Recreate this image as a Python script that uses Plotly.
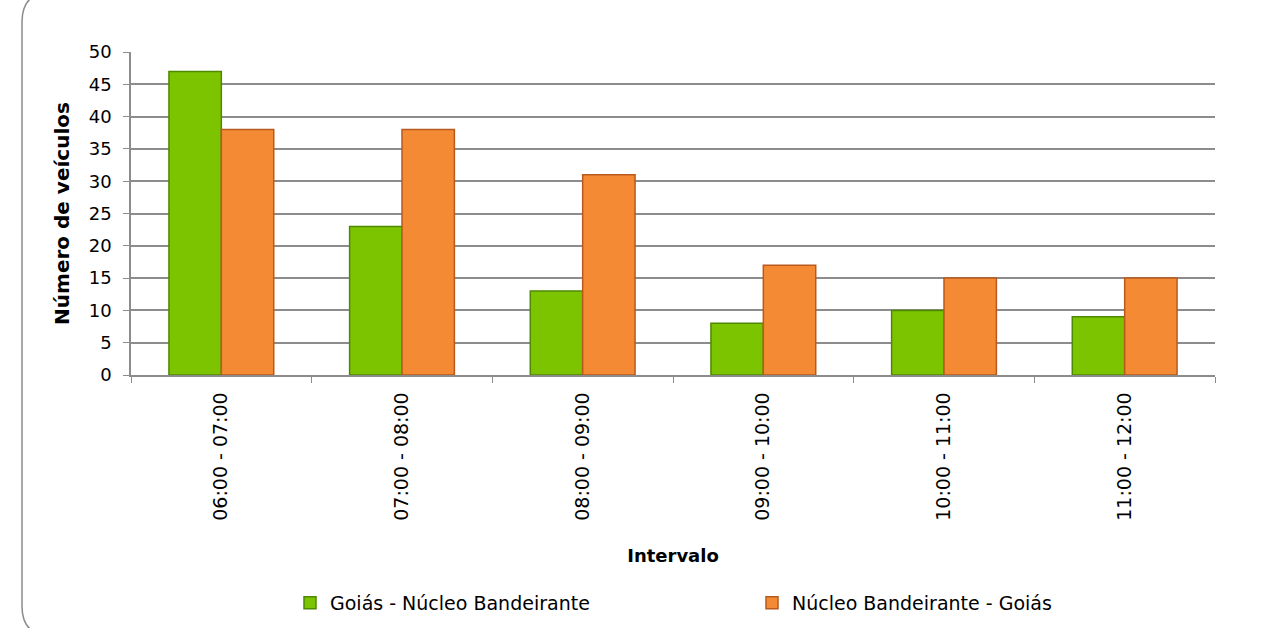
import plotly.graph_objects as go

categories = ["06:00 - 07:00", "07:00 - 08:00", "08:00 - 09:00", "09:00 - 10:00", "10:00 - 11:00", "11:00 - 12:00"]
goias_nb = [47, 23, 13, 8, 10, 9]
nb_goias = [38, 38, 31, 17, 15, 15]
series_names = ["Goiás - Núcleo Bandeirante", "Núcleo Bandeirante - Goiás"]
y_ticks = [0, 5, 10, 15, 20, 25, 30, 35, 40, 45, 50]

W, H = 1271, 628
ML, MR, MT, MB = 131, 56, 52, 253
PW, PH = W - ML - MR, H - MT - MB

def px(x):
    return (x - ML) / PW

def py(y):
    return (H - MB - y) / PH

FONT = "DejaVu Sans, sans-serif"
FS = 18

fig = go.Figure()
fig.add_trace(go.Bar(
    x=categories, y=goias_nb, name=series_names[0], legend="legend",
    marker=dict(color="#7CC300", line=dict(color="#4E8A00", width=1.5)),
))
fig.add_trace(go.Bar(
    x=categories, y=nb_goias, name=series_names[1], legend="legend2",
    marker=dict(color="#F58A35", line=dict(color="#B85A1E", width=1.5)),
))

# rounded frame around the chart (partly outside the visible page, as in the original)
x0, x1, y0, y1, r = 22, 1280, -8, 636, 30
path = (
    f"M {px(x0)} {py(y0 + r)} "
    f"Q {px(x0)} {py(y0)} {px(x0 + r)} {py(y0)} "
    f"L {px(x1 - r)} {py(y0)} "
    f"Q {px(x1)} {py(y0)} {px(x1)} {py(y0 + r)} "
    f"L {px(x1)} {py(y1 - r)} "
    f"Q {px(x1)} {py(y1)} {px(x1 - r)} {py(y1)} "
    f"L {px(x0 + r)} {py(y1)} "
    f"Q {px(x0)} {py(y1)} {px(x0)} {py(y1 - r)} Z"
)
fig.add_shape(type="path", path=path, xref="paper", yref="paper",
              line=dict(color="#8C8C8C", width=1.5), fillcolor="rgba(0,0,0,0)", layer="below")

leg_common = dict(orientation="h", yanchor="middle", xanchor="left", itemwidth=30,
                  bgcolor="rgba(0,0,0,0)", font=dict(family=FONT, size=19))
fig.update_layout(
    width=W, height=H,
    margin=dict(l=ML, r=MR, t=MT, b=MB, autoexpand=False),
    paper_bgcolor="white", plot_bgcolor="white",
    barmode="group", bargap=0.42, bargroupgap=0,
    font=dict(family=FONT, size=FS, color="black"),
    showlegend=True,
    legend=dict(x=px(290), y=py(603), **leg_common),
    legend2=dict(x=px(752), y=py(603), **leg_common),
    xaxis=dict(
        title=dict(text="<b>Intervalo</b>", font=dict(family=FONT, size=FS), standoff=30),
        tickangle=-90, tickson="boundaries", ticks="outside", ticklen=6, tickcolor="#8C8C8C",
        ticklabelstandoff=8,
        showline=True, linecolor="#8C8C8C", linewidth=1.5, automargin=False,
        showgrid=False, tickfont=dict(family=FONT, size=19),
    ),
    yaxis=dict(
        title=dict(text="<b>Número de veículos</b>", font=dict(family=FONT, size=20), standoff=14),
        range=[0, 50], tickvals=y_ticks, ticks="outside", ticklen=6, tickcolor="#8C8C8C",
        ticklabelstandoff=8,
        showline=True, linecolor="#8C8C8C", linewidth=1.5, automargin=False,
        showgrid=True, gridcolor="#8C8C8C", gridwidth=1.5,
        tickfont=dict(family=FONT, size=FS), zeroline=False,
    ),
)

fig.write_html("out.html", config={"displayModeBar": False},
               post_script="document.body.style.margin='0';")
